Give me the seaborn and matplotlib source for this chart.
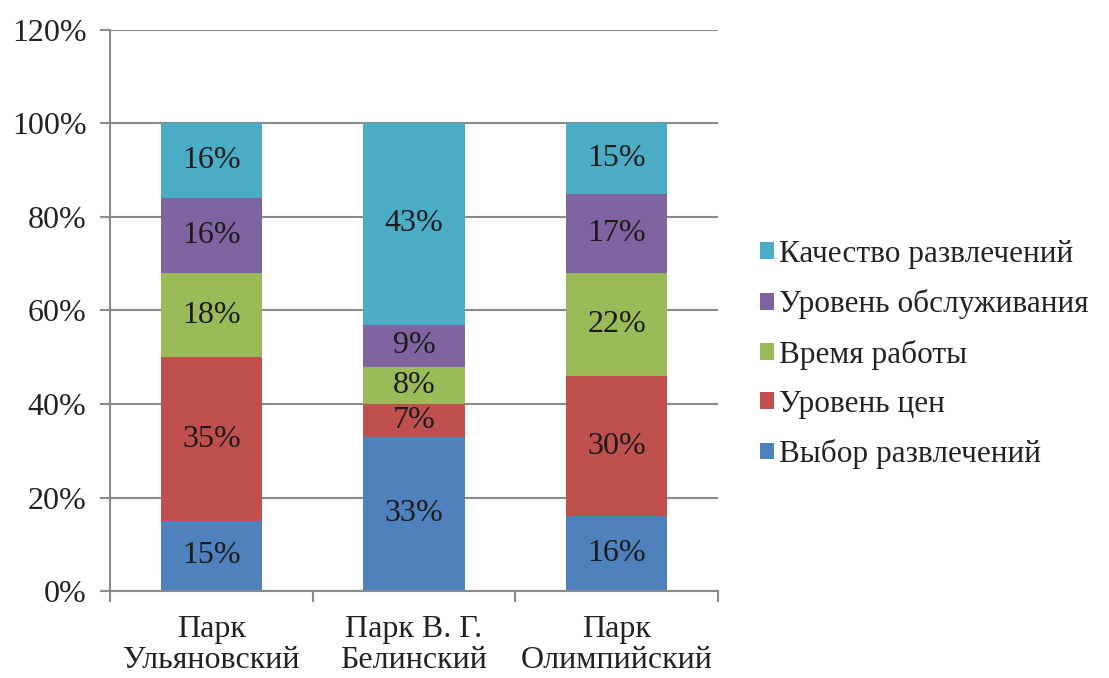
import matplotlib
matplotlib.use("Agg")
import matplotlib.pyplot as plt
from matplotlib.patches import Patch
from matplotlib.ticker import FixedLocator
import numpy as np
import pandas as pd
import seaborn as sns

# Parks on the x axis
parks = ["Парк\nУльяновский", "Парк В. Г.\nБелинский", "Парк\nОлимпийский"]

# Share of answers per criterion, bottom to top of each stack (%)
choice_of_rides = [15, 33, 16]     # Выбор развлечений
price_level = [35, 7, 30]          # Уровень цен
opening_hours = [18, 8, 22]        # Время работы
service_level = [16, 9, 17]        # Уровень обслуживания
ride_quality = [16, 43, 15]        # Качество развлечений

series_names = ["Выбор развлечений", "Уровень цен", "Время работы",
                "Уровень обслуживания", "Качество развлечений"]
series_values = [choice_of_rides, price_level, opening_hours,
                 service_level, ride_quality]
colors = ["#4F81BD", "#C0504D", "#9BBB59", "#8064A2", "#4BACC6"]

y_ticks = [0, 20, 40, 60, 80, 100, 120]
y_tick_labels = ["0%", "20%", "40%", "60%", "80%", "100%", "120%"]

sns.set_theme(style="white")
plt.rcParams["font.family"] = ["Liberation Serif", "DejaVu Serif"]

fig = plt.figure(figsize=(11.09, 6.78), dpi=100)
ax = fig.add_axes([0.0992, 0.1283, 0.5482, 0.8275])

grid_color = "#8a8a8a"
text_color = "#222222"
ax.set_axisbelow(True)
for t in y_ticks:
    ax.axhline(t, color=grid_color, lw=1.5, zorder=0)

# Stacked bars: draw cumulative totals from the top series down
vals = np.array(series_values, dtype=float)
cum = np.cumsum(vals, axis=0)
for i in range(len(series_names) - 1, -1, -1):
    df = pd.DataFrame({"park": parks, "value": cum[i]})
    sns.barplot(data=df, x="park", y="value", color=colors[i], width=0.5,
                saturation=1, ax=ax, linewidth=0, zorder=2)

# Segment labels
bottoms = cum - vals
for i in range(len(series_names)):
    for j in range(len(parks)):
        v = vals[i, j]
        ax.text(j, bottoms[i, j] + v / 2, f"{int(v)}%", ha="center",
                va="center", fontsize=23, color="#1b1b1b", zorder=3)

ax.set_xlim(-0.5, 2.5)
ax.set_ylim(0, 120)
ax.set_xlabel("")
ax.set_ylabel("")

ax.set_yticks(y_ticks)
ax.set_yticklabels(y_tick_labels)
ax.set_xticks(range(len(parks)))
ax.set_xticklabels(parks, linespacing=1.1)
ax.xaxis.set_minor_locator(FixedLocator([-0.5, 0.5, 1.5, 2.5]))

ax.tick_params(axis="y", which="major", length=7, width=1.5, color=grid_color,
               labelsize=23, pad=10, labelcolor=text_color, left=True)
ax.tick_params(axis="x", which="major", length=0, labelsize=23, pad=17,
               labelcolor=text_color)
ax.tick_params(axis="x", which="minor", length=8, width=1.5, color=grid_color,
               bottom=True)

for side in ["top", "right"]:
    ax.spines[side].set_visible(False)
for side in ["left", "bottom"]:
    ax.spines[side].set_color(grid_color)
    ax.spines[side].set_linewidth(1.5)

handles = [Patch(facecolor=colors[i], edgecolor="none")
           for i in range(len(series_names) - 1, -1, -1)]
labels = [series_names[i] for i in range(len(series_names) - 1, -1, -1)]
fig.legend(handles, labels, loc="center left", bbox_to_anchor=(0.660, 0.477),
           frameon=False, fontsize=22.5, handlelength=0.45, handleheight=0.45,
           handletextpad=0.15, labelspacing=0.65, labelcolor=text_color)

fig.savefig("out.png", dpi=100, facecolor="white")
